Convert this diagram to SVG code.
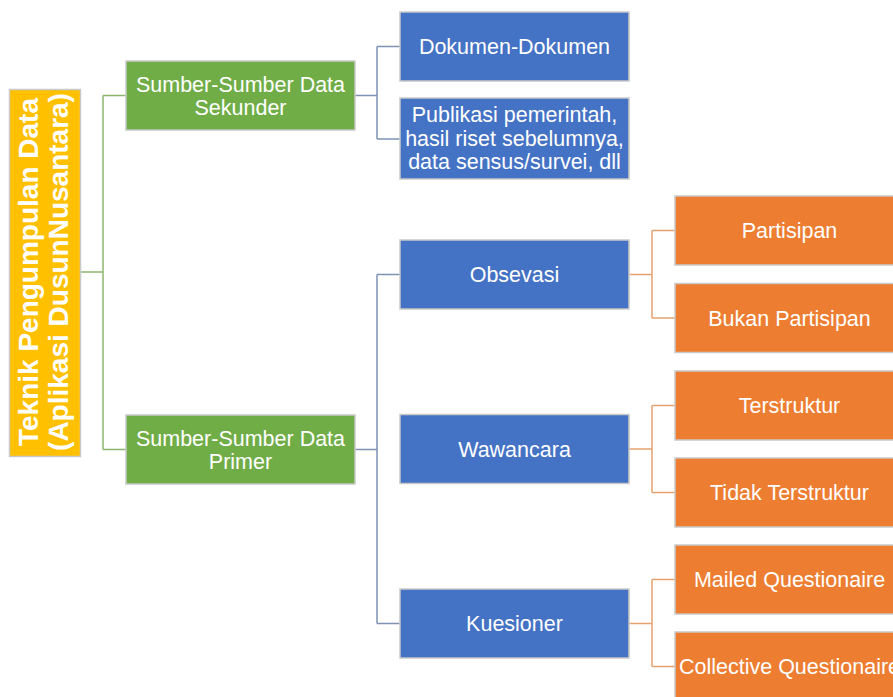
<svg xmlns="http://www.w3.org/2000/svg" width="893" height="697" viewBox="0 0 893 697">
<style>
.box{stroke:#C9C9C9;stroke-width:1.5}
.root{fill:#FFC000}
.green{fill:#70AD47}
.blue{fill:#4472C4}
.orange{fill:#ED7D31}
text{font-family:"Liberation Sans",Arial,sans-serif;fill:#FFFFFF;text-anchor:middle}
.t{font-size:21.5px}
.rt{font-size:28px;font-weight:bold}
.cg{stroke:#8CB56E;stroke-width:1.5;fill:none}
.cb{stroke:#7F92B5;stroke-width:1.5;fill:none}
.co{stroke:#E5A270;stroke-width:1.5;fill:none}
</style>
<rect width="893" height="697" fill="#FFFFFF"/>
<g id="connectors">
<path class="cg" d="M80,272 H103 M103,95.5 V449.5 M103,95.5 H126 M103,449.5 H126"/>
<path class="cb" d="M355,95.5 H377 M377,46.5 V139 M377,46.5 H400 M377,139 H400"/>
<path class="cb" d="M355,449.5 H377 M377,274.5 V623.5 M377,274.5 H400 M377,623.5 H400"/>
<path class="co" d="M629,274.5 H652 M652,230.5 V318 M652,230.5 H675 M652,318 H675"/>
<path class="co" d="M629,449 H652 M652,405.5 V492.5 M652,405.5 H675 M652,492.5 H675"/>
<path class="co" d="M629,623.5 H652 M652,579.5 V666.5 M652,579.5 H675 M652,666.5 H675"/>
</g>
<g id="root">
<rect class="box root" x="9.5" y="89.5" width="71" height="367"/>
<text class="rt" transform="translate(44.5,272) rotate(-90)"><tspan x="0" y="-6.5">Teknik Pengumpulan Data</tspan><tspan x="0" y="23">(Aplikasi DusunNusantara)</tspan></text>
</g>
<g id="sekunder">
<rect class="box green" x="126" y="61" width="229" height="69"/>
<text class="t"><tspan x="240.5" y="92">Sumber-Sumber Data</tspan><tspan x="240.5" y="114.5">Sekunder</tspan></text>
</g>
<g id="primer">
<rect class="box green" x="126" y="415" width="229" height="69"/>
<text class="t"><tspan x="240.5" y="446">Sumber-Sumber Data</tspan><tspan x="240.5" y="468.5">Primer</tspan></text>
</g>
<g id="dokumen">
<rect class="box blue" x="400" y="12" width="229" height="69"/>
<text class="t" x="514.5" y="54">Dokumen-Dokumen</text>
</g>
<g id="publikasi">
<rect class="box blue" x="400" y="98" width="229" height="81"/>
<text class="t"><tspan x="514.5" y="122">Publikasi pemerintah,</tspan><tspan x="514.5" y="145.5">hasil riset sebelumnya,</tspan><tspan x="514.5" y="169">data sensus/survei, dll</tspan></text>
</g>
<g id="obsevasi">
<rect class="box blue" x="400" y="240" width="229" height="69"/>
<text class="t" x="514.5" y="282">Obsevasi</text>
</g>
<g id="wawancara">
<rect class="box blue" x="400" y="414.5" width="229" height="69"/>
<text class="t" x="514.5" y="456.5">Wawancara</text>
</g>
<g id="kuesioner">
<rect class="box blue" x="400" y="589" width="229" height="69"/>
<text class="t" x="514.5" y="631">Kuesioner</text>
</g>
<g id="partisipan">
<rect class="box orange" x="675" y="196" width="229" height="69"/>
<text class="t" x="789.5" y="238">Partisipan</text>
</g>
<g id="bukan-partisipan">
<rect class="box orange" x="675" y="283.5" width="229" height="69"/>
<text class="t" x="789.5" y="325.5">Bukan Partisipan</text>
</g>
<g id="terstruktur">
<rect class="box orange" x="675" y="371" width="229" height="69"/>
<text class="t" x="789.5" y="413">Terstruktur</text>
</g>
<g id="tidak-terstruktur">
<rect class="box orange" x="675" y="458" width="229" height="69"/>
<text class="t" x="789.5" y="500">Tidak Terstruktur</text>
</g>
<g id="mailed">
<rect class="box orange" x="675" y="545" width="229" height="69"/>
<text class="t" x="789.5" y="587">Mailed Questionaire</text>
</g>
<g id="collective">
<rect class="box orange" x="675" y="632" width="229" height="69"/>
<text class="t" x="789.5" y="674">Collective Questionaire</text>
</g>
</svg>
